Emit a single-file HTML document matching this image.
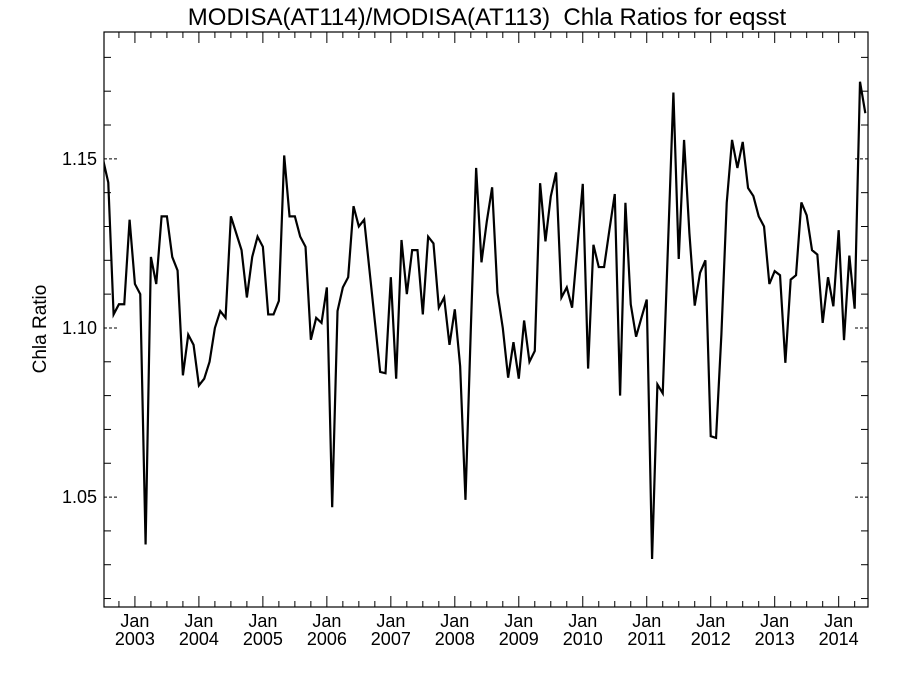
<!DOCTYPE html>
<html><head><meta charset="utf-8"><style>
body{margin:0;background:#fff;}
svg{display:block;font-family:"Liberation Sans",sans-serif;}
</style></head><body>
<svg id="chart" width="900" height="675" viewBox="0 0 900 675" xmlns="http://www.w3.org/2000/svg">
<rect width="900" height="675" fill="#fff"/>
<text x="487" y="25" font-size="24" text-anchor="middle" fill="#000">MODISA(AT114)/MODISA(AT113)&#160; Chla Ratios for eqsst</text>
<text transform="translate(46,329) rotate(-90)" font-size="19" text-anchor="middle" fill="#000">Chla Ratio</text>
<g id="axes"></g>
<g id="series"></g>
<rect x="104" y="32" width="764" height="575" fill="none" stroke="#000" stroke-width="1.2"/>
</svg>
<script>
// monthly values starting Jul 2002
const startYear = 2002;
const startMonth = 6; // July (0-based)
const values2002 = [1.150,1.143,1.104,1.107,1.107,1.132];
const values2003 = [1.113,1.110,1.036,1.121,1.113,1.133,1.133,1.121,1.117,1.086,1.098,1.095];
const values2004 = [1.083,1.085,1.090,1.100,1.105,1.103,1.133,1.128,1.123,1.109,1.121,1.127];
const values2005 = [1.124,1.104,1.104,1.108,1.151,1.133,1.133,1.127,1.124,1.0965,1.103,1.1015];
const values2006 = [1.112,1.047,1.105,1.112,1.115,1.136,1.130,1.132,1.117,1.102,1.087,1.0866];
const values2007 = [1.115,1.085,1.126,1.110,1.123,1.123,1.104,1.127,1.125,1.106,1.109,1.095];
const values2008 = [1.1055,1.0887,1.0492,1.0996,1.1473,1.1194,1.1315,1.1416,1.1104,1.100,1.0853,1.0958];
const values2009 = [1.085,1.1022,1.090,1.0932,1.1428,1.1256,1.1389,1.146,1.109,1.112,1.106,1.124];
const values2010 = [1.1426,1.088,1.1246,1.118,1.118,1.129,1.1396,1.080,1.137,1.107,1.0974,1.103];
const values2011 = [1.1084,1.0317,1.0833,1.0807,1.125,1.1696,1.1204,1.1556,1.128,1.1066,1.1163,1.120];
const values2012 = [1.068,1.0675,1.098,1.137,1.1556,1.1473,1.155,1.1414,1.139,1.133,1.130,1.113];
const values2013 = [1.1168,1.1156,1.0897,1.1143,1.1156,1.1371,1.1333,1.123,1.1217,1.1015,1.115,1.1064];
const values2014 = [1.1289,1.0964,1.1214,1.1057,1.1728,1.1635];
const yearLabels = ["2003","2004","2005","2006","2007","2008","2009","2010","2011","2012","2013","2014"];
const yTickLabels = ["1.05","1.10","1.15"];

const NS="http://www.w3.org/2000/svg";
const X0=104,X1=868,Y0=32,Y1=607;
const mMin=-5.8,mMax=137.5; // months relative to Jan 2003
const yMin=1.0175,yMax=1.1875;
function xs(m){return X0+(m-mMin)/(mMax-mMin)*(X1-X0);}
function ys(v){return Y1-(v-yMin)/(yMax-yMin)*(Y1-Y0);}
function mk(tag,attrs,parent){const e=document.createElementNS(NS,tag);for(const k in attrs)e.setAttribute(k,attrs[k]);parent.appendChild(e);return e;}
const axes=document.getElementById('axes');
const series=document.getElementById('series');

for(let i=2;i<=18;i++){
  const v=1.0+i*0.01; const y=ys(v);
  if(y<Y0||y>Y1)continue;
  const major=(i%5===0);
  const len=major?15:7;
  const l1=mk('line',{x1:X0,y1:y,x2:X0+len,y2:y,stroke:'#000','stroke-width':1,'stroke-dasharray':major?'3,2':'none'},axes);
  
  
  const l2=mk('line',{x1:X1,y1:y,x2:X1-len,y2:y,stroke:'#000','stroke-width':1,'stroke-dasharray':major?'3,2':'none'},axes);
  
  
}
yTickLabels.forEach(s=>{
  const t=mk('text',{x:X0-7,y:ys(parseFloat(s))+6,'font-size':18,'text-anchor':'end',fill:'#000'},axes);
  t.textContent=s;
  
  
});
for(let m=-3;m<=mMax;m+=3){
  const x=xs(m); if(x<X0||x>X1)continue;
  const major=(m%12===0);
  const len=major?11:6;
  const b=mk('line',{x1:x,y1:Y1,x2:x,y2:Y1-len,stroke:'#000','stroke-width':1},axes);
  
  
  const t=mk('line',{x1:x,y1:Y0,x2:x,y2:Y0+len,stroke:'#000','stroke-width':1},axes);
  
  
}
yearLabels.forEach((yr,i)=>{
  const x=xs(i*12);
  const j=mk('text',{x:x,y:627,'font-size':18,'text-anchor':'middle',fill:'#000'},axes);
  j.textContent='Jan';
  
  
  const t=mk('text',{x:x,y:645,'font-size':18,'text-anchor':'middle',fill:'#000'},axes);
  t.textContent=yr;
  
  
});
const all=[].concat(values2002,values2003,values2004,values2005,values2006,values2007,values2008,values2009,values2010,values2011,values2012,values2013,values2014);
const first=(startYear-2003)*12+startMonth;
const pts=all.map((v,i)=>xs(first+i).toFixed(2)+','+ys(v).toFixed(2)).join(' ');
mk('clipPath',{id:'clip'},document.getElementById('chart'));
mk('rect',{x:X0,y:Y0,width:X1-X0,height:Y1-Y0},document.getElementById('clip'));
const pl=mk('polyline',{points:pts,fill:'none',stroke:'#000','stroke-width':2.2,'stroke-linejoin':'miter','clip-path':'url(#clip)'},series);


</script>
</body></html>
